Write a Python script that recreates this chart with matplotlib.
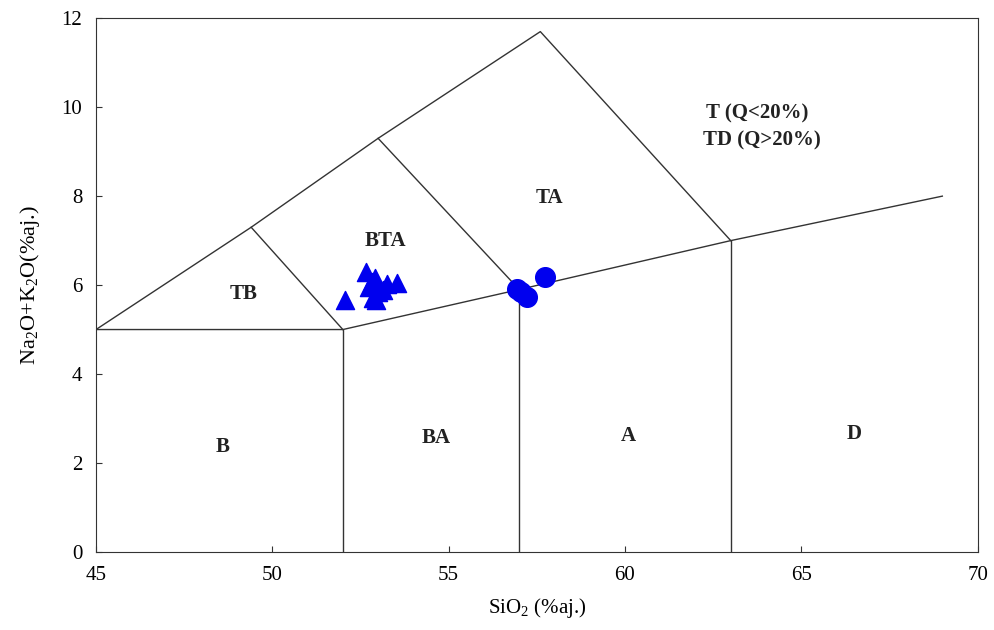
import matplotlib
matplotlib.use("Agg")
import matplotlib.pyplot as plt

plt.rcParams['font.family'] = ['Liberation Serif', 'DejaVu Serif']
plt.rcParams['mathtext.fontset'] = 'custom'
plt.rcParams['mathtext.rm'] = 'Liberation Serif'

# ── TAS field boundaries (SiO2, Na2O+K2O) ────────────────────
lower_x = [45, 52, 57, 63, 69]
lower_y = [5, 5, 5.9, 7, 8]
upper_x = [45, 49.4, 53, 57.6, 63]
upper_y = [5, 7.3, 9.3, 11.7, 7]
tb_bta_x = [49.4, 52]
tb_bta_y = [7.3, 5]
ta_bta_x = [53, 57]
ta_bta_y = [9.3, 5.9]
vert_x = [52, 57, 63]
vert_top = [5, 5.9, 7]

# ── Field names ──────────────────────────────────────────────
field_names = ["TB", "B", "BA", "A", "D", "BTA", "TA"]
field_x = [49.2, 48.6, 54.65, 60.1, 66.5, 53.2, 57.85]
field_y = [5.8, 2.35, 2.55, 2.6, 2.65, 7.0, 7.95]
note_lines = ["T (Q<20%)", "TD (Q>20%)"]
note_x = [62.3, 62.2]
note_y = [9.85, 9.25]

# ── Samples ──────────────────────────────────────────────────
tri_x = [52.07, 52.66, 53.54, 52.83, 53.0, 52.86, 53.14, 52.95, 52.75, 53.25, 52.9]
tri_y = [5.66, 6.29, 6.04, 6.07, 5.84, 5.71, 5.89, 5.66, 5.95, 6.02, 6.15]
circ_x = [56.95, 57.23, 57.74, 57.05]
circ_y = [5.91, 5.73, 6.18, 5.85]

fig = plt.figure(figsize=(9.95, 6.3), dpi=100)
ax = fig.add_axes([0.0965, 0.124, 0.886, 0.847])

lc = "#333333"
ax.plot(lower_x, lower_y, color=lc, lw=1)
ax.plot(upper_x, upper_y, color=lc, lw=1)
ax.plot(tb_bta_x, tb_bta_y, color=lc, lw=1)
ax.plot(ta_bta_x, ta_bta_y, color=lc, lw=1)
for x, top in zip(vert_x, vert_top):
    ax.plot([x, x], [0, top], color=lc, lw=1)

for name, x, y in zip(field_names, field_x, field_y):
    ax.text(x, y, name, ha="center", va="center", fontsize=15,
            fontweight="bold", color="#222222")
for name, x, y in zip(note_lines, note_x, note_y):
    ax.text(x, y, name, ha="left", va="center", fontsize=15,
            fontweight="bold", color="#222222")

ax.scatter(tri_x, tri_y, marker="^", s=170, color="#0000ee", zorder=3)
ax.scatter(circ_x, circ_y, marker="o", s=200, color="#0000ee", zorder=3)

ax.set_xlim(45, 70)
ax.set_ylim(0, 12)
ax.set_xticks([45, 50, 55, 60, 65, 70])
ax.set_yticks([0, 2, 4, 6, 8, 10, 12])
ax.tick_params(direction="in", length=4, width=0.8, color=lc,
               labelsize=15, pad=10)
for sp in ax.spines.values():
    sp.set_color(lc)

ax.set_xlabel(r"SiO$_\mathregular{2}$ (%aj.)", fontsize=15, labelpad=8)
ax.set_ylabel(r"Na$_\mathregular{2}$O+K$_\mathregular{2}$O(%aj.)", fontsize=16, labelpad=14)

fig.savefig("out.png", dpi=100)
